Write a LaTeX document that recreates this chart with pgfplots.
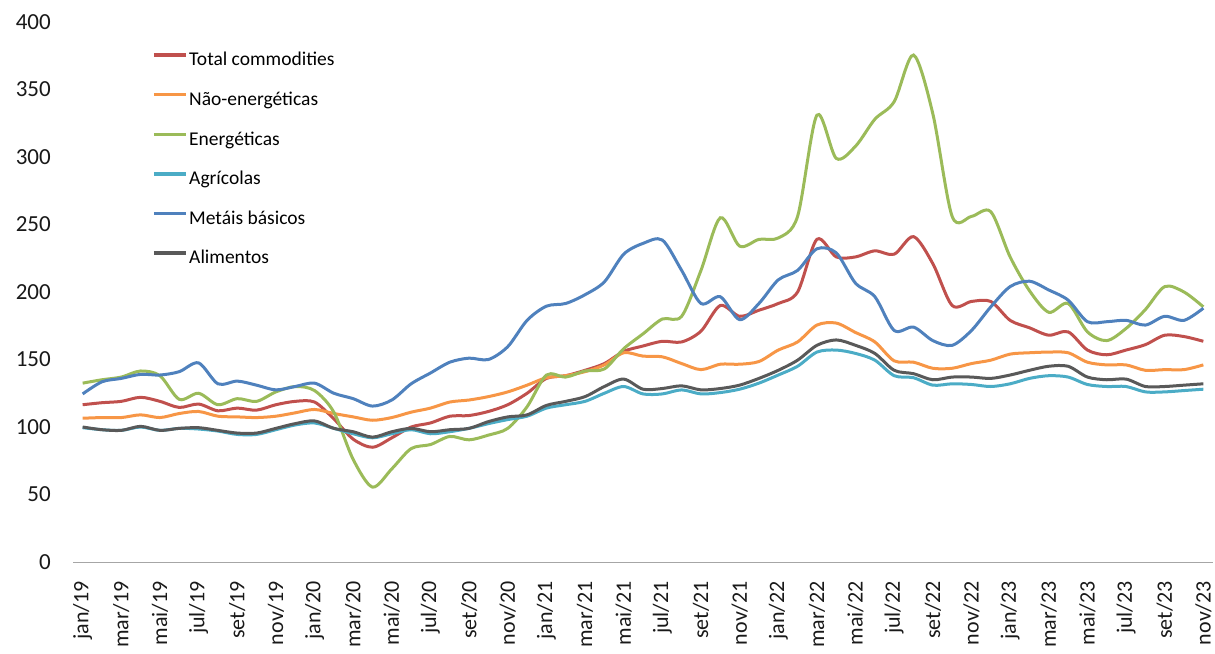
\documentclass[border=0pt]{standalone}
\usepackage{fontspec}
\setmainfont{Carlito}
\usepackage{pgfplots}
\pgfplotsset{compat=1.18}
\usepackage{pgfplotstable}
\definecolor{cTot}{HTML}{C0504D}
\definecolor{cNao}{HTML}{F79646}
\definecolor{cEne}{HTML}{9BBB59}
\definecolor{cAgr}{HTML}{4BACC6}
\definecolor{cMet}{HTML}{4F81BD}
\definecolor{cAli}{HTML}{595959}
\definecolor{cAxis}{HTML}{A6A6A6}

\pgfplotstableread{
i tot nao ene agr met ali
0 116.5 106.5 132.5 99.5 124.5 100
1 118 107 135 98 133.5 98
2 119 107 137 97.5 136 97.5
3 122 109 141.5 100 139 100.5
4 119 107 138 97.5 138.5 97.5
5 114.5 110 120.5 99 141 99
6 117 111.5 125 98.5 147.5 99.5
7 112 108 116.5 97 132 97.5
8 114 107.5 121 94.5 134 95.5
9 112.5 107 119 94.5 131 95.5
10 116.5 108 126 98 127.5 99
11 119 110.5 130 101.5 130 102.5
12 118.5 113 127 103 132.5 104.5
13 106 110 111 99 125 99
14 91 107.5 76 95 121 96.5
15 85 105 55.5 92 115.5 92.5
16 92 107 69 95 120 96.5
17 100 111 84 98 132 99
18 103 114 87 95 140 96.5
19 108 118.5 93 96.5 148 98
20 108.5 120 90.5 99 151 99
21 111.5 122.5 94 102.5 150 104
22 116.5 126 99 105.5 159.5 107.5
23 125 131 115 108 179 109
24 136 136.5 138.5 114 189.5 116
25 138 138 137 116.5 191.5 119
26 142 141 141.5 119 198 122.5
27 147 146 143 125 207.5 130
28 156 155 158 130 228 135.5
29 160 152.5 169 124.5 236 128
30 163.5 152 180 124.5 238.5 128.5
31 163 147 182 127.5 216 130.5
32 171 142.5 216 124.5 191.5 127.5
33 190 146.5 255 125.5 196.5 128.5
34 182 146.5 234 128 179.5 131
35 186.5 148.5 239 132.5 191.5 136
36 191.5 157 240 138.5 209 142
37 200 163 256 145 216 149.5
38 239 175.5 331 155.5 232 160.5
39 226 177 299 157 229 164.5
40 226 170 308 154.5 206.5 160.5
41 230.5 163 328 149.5 196.5 154.5
42 228 149 341 138 171.5 142
43 241 148 375.5 136.5 174 139.5
44 221 143.5 332 131 164 135
45 190 143.5 256 132 160.5 137
46 193 147 256 131.5 171.5 137
47 193 149.5 259.5 130 189 136
48 179 154 226 132 204 138.5
49 173.5 155 201 136 208 142
50 168 155.5 185 138 201.5 145
51 170.5 155 191.5 137 194 145
52 157 148 170.5 131.5 178 137
53 153.5 146 164 130 178 135
54 157 146 173 130 179 135.5
55 161 142 187 126 175.5 130
56 168 142.5 204 126 182 130
57 167 142.5 200 127 179 131
58 163.5 146 189 128 188 132
}\data

\begin{document}
\begin{tikzpicture}
\begin{axis}[
  name=ax,
  scale only axis, width=1140bp, height=540bp,
  xmin=-0.5, xmax=58.5, ymin=0, ymax=400,
  axis lines*=left,
  x axis line style={draw=cAxis, line width=1bp},
  y axis line style={draw=none},
  tick style={draw=none},
  major tick length=0pt,
  /pgf/number format/assume math mode=true,
  xtick={0,2,...,58},
  xticklabels={jan/19,mar/19,mai/19,jul/19,set/19,nov/19,jan/20,mar/20,mai/20,jul/20,set/20,nov/20,jan/21,mar/21,mai/21,jul/21,set/21,nov/21,jan/22,mar/22,mai/22,jul/22,set/22,nov/22,jan/23,mar/23,mai/23,jul/23,set/23,nov/23},
  x tick label style={rotate=90, anchor=east, inner sep=0pt, font=\fontsize{22bp}{24bp}\selectfont, text=black!90},
  xticklabel shift=19bp,
  ytick={0,50,...,400},
  y tick label style={anchor=east, inner sep=0pt, font=\fontsize{23bp}{25bp}\selectfont, text=black!90},
  yticklabel shift=22bp,
  legend cell align=left,
  legend style={draw=none, fill=none, at={(0.0693,0.946)}, anchor=north west,
    font=\fontsize{19.5bp}{21bp}\selectfont, row sep=19.1bp, inner sep=0pt,
    nodes={inner sep=1.5bp, text height=13bp, text depth=4.5bp}},
  legend image code/.code={\draw[#1, line width=3.5bp] (0bp,6.5bp) -- (32bp,6.5bp);},
  every axis plot/.append style={line width=3bp, smooth, tension=0.5},
]
\addplot[cTot] table[x=i, y=tot] {\data};
\addlegendentry{Total commodities}
\addplot[cNao] table[x=i, y=nao] {\data};
\addlegendentry{Não-energéticas}
\addplot[cEne] table[x=i, y=ene] {\data};
\addlegendentry{Energéticas}
\addplot[cAgr] table[x=i, y=agr] {\data};
\addlegendentry{Agrícolas}
\addplot[cMet] table[x=i, y=met] {\data};
\addlegendentry{Metáis básicos}
\addplot[cAli] table[x=i, y=ali] {\data};
\addlegendentry{Alimentos}
\end{axis}
\pgfresetboundingbox
\path ([shift={(-73bp,-91bp)}]ax.south west) rectangle ([shift={(2bp,22bp)}]ax.north east);
\end{tikzpicture}
\end{document}
